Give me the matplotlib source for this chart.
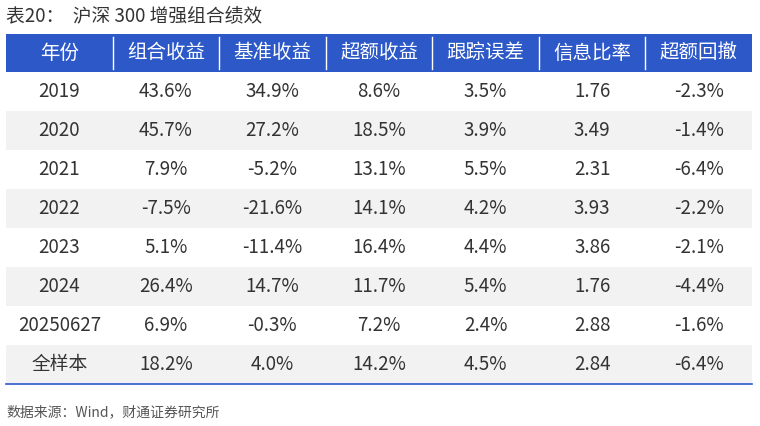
import matplotlib
matplotlib.use("Agg")
import matplotlib.pyplot as plt
from matplotlib.patches import Rectangle

plt.rcParams["font.family"] = ["Noto Sans CJK SC"]

title = "表20：  沪深 300 增强组合绩效"
source = "数据来源：Wind，财通证券研究所"
headers = ["年份", "组合收益", "基准收益", "超额收益", "跟踪误差", "信息比率", "超额回撤"]
years = ["2019", "2020", "2021", "2022", "2023", "2024", "20250627", "全样本"]
port = ["43.6%", "45.7%", "7.9%", "-7.5%", "5.1%", "26.4%", "6.9%", "18.2%"]
bench = ["34.9%", "27.2%", "-5.2%", "-21.6%", "-11.4%", "14.7%", "-0.3%", "4.0%"]
excess = ["8.6%", "18.5%", "13.1%", "14.1%", "16.4%", "11.7%", "7.2%", "14.2%"]
te = ["3.5%", "3.9%", "5.5%", "4.2%", "4.4%", "5.4%", "2.4%", "4.5%"]
ir = ["1.76", "3.49", "2.31", "3.93", "3.86", "1.76", "2.88", "2.84"]
dd = ["-2.3%", "-1.4%", "-6.4%", "-2.2%", "-2.1%", "-4.4%", "-1.6%", "-6.4%"]
cols = [years, port, bench, excess, te, ir, dd]

W, H = 760, 426
fig = plt.figure(figsize=(W/100, H/100), dpi=100)
ax = fig.add_axes([0, 0, 1, 1])
ax.set_xlim(0, W); ax.set_ylim(H, 0); ax.axis("off")

x0, x1 = 6, 752
cw = (x1 - x0) / 7
hy0, hy1 = 34, 72
rh = (384 - hy1) / 8
blue = "#2d59c8"
ax.add_patch(Rectangle((x0, hy0), x1-x0, hy1-hy0, color=blue, lw=0))
for j in range(1, 7):
    ax.plot([x0+j*cw]*2, [hy0+3, hy1-3], color="white", lw=1)
for j, h in enumerate(headers):
    ax.text(x0+(j+.5)*cw, (hy0+hy1)/2, h, color="white", fontsize=14,
            fontweight="medium", ha="center", va="center")
for i in range(8):
    y = hy1 + i*rh
    if i % 2 == 1:
        ax.add_patch(Rectangle((x0, y), x1-x0, rh, color="#f2f2f2", lw=0))
    for j in range(7):
        ax.text(x0+(j+.5)*cw, y+rh/2, cols[j][i], color="#333333",
                fontsize=13.5, fontweight="light", ha="center", va="center")
ax.plot([x0, x1], [384, 384], color=blue, lw=1.2)
ax.text(6, 16, title, fontsize=13.5, fontweight="medium", color="#333333", va="center")
ax.text(6, 412, source, fontsize=10, color="#555555", va="center")
fig.savefig("out.png", dpi=100)
